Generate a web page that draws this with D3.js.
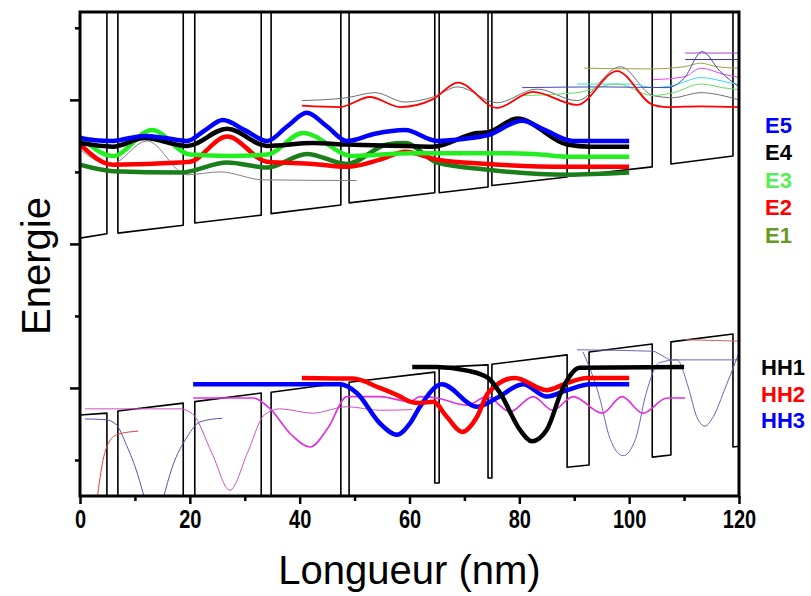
<!DOCTYPE html>
<html><head><meta charset="utf-8">
<script src="https://cdn.jsdelivr.net/npm/d3@7"></script>
<style>body{margin:0;background:#fff}</style>
</head><body><svg id="c" width="811" height="596"></svg>
<script>
// ---------- DATA (x in nm, energy in eV, arbitrary origin) ----------
const conductionBand = [[0,0.308],[4.9,0.314],[4.9,0.75],[6.9,0.75],[6.9,0.315],[18.8,0.326],[18.8,0.75],[20.9,0.75],[20.9,0.329],[33.0,0.340],[33.0,0.75],[34.8,0.75],[34.8,0.342],[47.5,0.354],[47.5,0.75],[49.0,0.75],[49.0,0.357],[64.6,0.371],[64.6,0.75],[65.4,0.75],[65.4,0.371],[74.3,0.379],[74.3,0.75],[75.0,0.75],[75.0,0.381],[88.7,0.393],[88.7,0.75],[92.7,0.75],[92.7,0.397],[104.2,0.407],[104.2,0.75],[107.6,0.75],[107.6,0.411],[118.9,0.422],[118.9,0.75]];
const valenceBand = [[0,0.0625],[4.9,0.065],[4.9,-0.1],[6.9,-0.1],[6.9,0.068],[18.8,0.079],[18.8,-0.1],[20.9,-0.1],[20.9,0.081],[33.0,0.093],[33.0,-0.1],[34.8,-0.1],[34.8,0.094],[47.5,0.107],[47.5,-0.1],[49.0,-0.1],[49.0,0.108],[64.6,0.122],[64.6,-0.032],[65.4,-0.032],[65.4,0.129],[74.3,0.132],[74.3,-0.025],[75.0,-0.025],[75.0,0.133],[88.7,0.146],[88.7,-0.010],[92.7,-0.007],[92.7,0.150],[104.2,0.161],[104.2,0.004],[107.6,0.007],[107.6,0.164],[118.9,0.175],[118.9,0.018],[120,0.019]];

const E5 = [[0,0.447],[2.7,0.444],[6.0,0.443],[9.1,0.447],[11.8,0.450],[15.5,0.447],[19.5,0.443],[22.8,0.458],[26.0,0.472],[30.0,0.458],[34.1,0.443],[37.7,0.463],[41.3,0.482],[45.0,0.463],[48.6,0.443],[53.7,0.453],[59.2,0.458],[65.0,0.443],[70.1,0.446],[74.3,0.451],[80.5,0.471],[84.7,0.458],[89.8,0.443],[100,0.443]];
const E4 = [[0,0.440],[6.0,0.435],[11.8,0.447],[19.5,0.436],[26.8,0.460],[34.1,0.436],[42.4,0.440],[48.6,0.438],[59.2,0.436],[64.3,0.435],[72.3,0.454],[74.3,0.455],[79.6,0.474],[88.7,0.438],[92.9,0.435],[100,0.435]];
const E3 = [[0,0.449],[6.0,0.422],[13.1,0.458],[20.0,0.424],[27.3,0.422],[34.1,0.424],[40.6,0.454],[49.7,0.422],[60.1,0.426],[74.3,0.426],[82.5,0.425],[88.7,0.421],[100,0.421]];
const E2 = [[0,0.438],[6.0,0.410],[18.2,0.413],[20.0,0.414],[26.8,0.449],[34.1,0.414],[42.4,0.411],[48.6,0.407],[54.6,0.417],[59.2,0.428],[65.0,0.417],[74.3,0.411],[88.7,0.407],[100,0.407]];
const E1 = [[0,0.410],[6.0,0.401],[18.2,0.399],[26.8,0.413],[34.1,0.406],[41.3,0.425],[48.6,0.411],[55.9,0.438],[59.2,0.440],[65.0,0.413],[74.3,0.403],[88.7,0.396],[100,0.399]];
const grayLow = [[0,0.431],[5.5,0.410],[12.2,0.443],[19.5,0.396],[25.5,0.400],[33.3,0.389],[50.4,0.388]];

const upperRed = [[40.4,0.492],[47.3,0.490],[52.8,0.504],[58.3,0.490],[64.3,0.501],[68.8,0.524],[75.9,0.489],[82.5,0.511],[90.5,0.493],[97.8,0.540],[104.3,0.493],[106.9,0.490],[113,0.491],[120,0.490]];
const upperGray = [[40.4,0.499],[48.6,0.503],[53.7,0.510],[59.2,0.497],[64.3,0.504],[68.8,0.518],[75.9,0.496],[83.2,0.515],[90.5,0.499],[98.4,0.546],[104.3,0.506],[108,0.503],[112.9,0.510],[120,0.500]];
const upperBlue = [[80.5,0.517],[95,0.518],[106.9,0.517],[110,0.530],[113.3,0.567],[116.5,0.540],[120,0.518]];
const upperNavy = [[110.2,0.556],[120,0.556]];
const upperPurple = [[110.2,0.565],[120,0.565]];
const upperOlive = [[91.8,0.544],[104,0.543],[110,0.546],[113,0.551],[116,0.546],[120,0.544]];
const upperMagenta = [[104.3,0.528],[110,0.532],[113.1,0.544],[117,0.536],[120,0.531]];
const upperCyan = [[90.5,0.522],[100.5,0.522],[104.3,0.517],[108,0.520],[113.1,0.531],[117,0.526],[120,0.521]];
const upperGreen = [[80.5,0.506],[90.5,0.510],[97.8,0.522],[104.3,0.506],[108,0.510],[113.1,0.522],[117,0.517],[120,0.514]];

const HH1 = [[60.5,0.129],[65,0.129],[70.5,0.124],[74.3,0.114],[76.5,0.093],[80.1,0.042],[82.3,0.026],[85.0,0.042],[88.0,0.101],[91.0,0.128],[110,0.129]];
const HH2 = [[40.4,0.114],[49.7,0.113],[54.6,0.100],[58.3,0.088],[60.1,0.081],[61.9,0.079],[64.3,0.081],[66.8,0.060],[69.6,0.039],[72.3,0.060],[74.3,0.093],[79.2,0.114],[85.0,0.097],[88.7,0.107],[92.3,0.114],[100,0.114]];
const HH3 = [[20.6,0.105],[47.3,0.105],[50.4,0.093],[54.6,0.051],[57.7,0.035],[60.1,0.051],[61.9,0.074],[65.9,0.105],[72.3,0.074],[75.9,0.086],[80.7,0.105],[85.0,0.088],[88.7,0.097],[92.9,0.105],[100,0.105]];
const pinkThin = [[0.9,0.071],[18.2,0.071],[20.5,0.064],[24,0.01],[27.3,-0.042],[30.5,0.01],[33.5,0.062],[36.4,0.071],[42.4,0.065],[48.6,0.074],[54.6,0.069],[60.5,0.070]];
const magentaHole = [[20.6,0.086],[31.5,0.086],[34.5,0.072],[38.5,0.035],[41.9,0.018],[45.2,0.045],[48.6,0.088],[54.6,0.088],[60.1,0.081],[61.9,0.088],[65.0,0.086],[70.5,0.076],[74.1,0.088],[78.3,0.067],[82.5,0.088],[86.1,0.069],[89.8,0.088],[95.1,0.065],[98.7,0.088],[102.5,0.065],[106.9,0.086],[110.2,0.086]];
const slateA = [[0.9,0.057],[4.6,0.056],[6.5,0.050],[8.5,0.020],[10.5,-0.02],[11.8,-0.055]];
const slateB = [[15.1,-0.055],[16.8,-0.01],[19.5,0.032],[21.9,0.053],[25.9,0.058]];
const redThinLow = [[3.1,-0.055],[4.2,0.0],[5.3,0.025],[7.0,0.036],[10.6,0.040]];
const slateC = [[90.5,0.153],[104.3,0.151],[106,0.145],[107.6,0.139],[120,0.139]];
const slateDip = [[91.6,0.150],[94.5,0.090],[96.5,0.030],[98.9,0.006],[101.2,0.030],[103,0.090],[105.5,0.135],[108.7,0.139],[110.8,0.100],[112.3,0.060],[113.8,0.047],[115.3,0.060],[117.5,0.100],[120,0.149]];
const redThinHigh = [[110.2,0.167],[120,0.165]];

const xMajorTicks = [0,20,40,60,80,100,120];
const xMinorTicks = [10,30,50,70,90,110];
const yMajorTicks = [0.1,0.3,0.5];
const yMinorTicks = [0,0.2,0.4,0.6];
const electronLabels = ["E5","E4","E3","E2","E1"];
const holeLabels = ["HH1","HH2","HH3"];
const xTitle = "Longueur (nm)";
const yTitle = "Energie";

// ---------- LAYOUT / STYLE ----------
const L=80, R=739, T=12, B=496;
const x = d3.scaleLinear().domain([0,120]).range([L,R]);
const y = d3.scaleLinear().domain([-0.05,0.622]).range([B,T]);
const svg = d3.select("#c");

svg.append("defs").append("clipPath").attr("id","clip")
  .append("rect").attr("x",L).attr("y",T).attr("width",R-L).attr("height",B-T);
const plot = svg.append("g").attr("clip-path","url(#clip)");

const straight = d3.line().x(d=>x(d[0])).y(d=>y(d[1]));
const smooth = d3.line().x(d=>x(d[0])).y(d=>y(d[1])).curve(d3.curveMonotoneX);

function draw(data, color, width, gen){
  plot.append("path").datum(data).attr("d", gen||smooth)
    .attr("fill","none").attr("stroke",color).attr("stroke-width",width)
    .attr("stroke-linejoin","round");
}
// band profile
draw(conductionBand,"#000",1.6,straight);
draw(valenceBand,"#000",1.6,straight);
// thin states
draw(grayLow,"#808080",1);
draw(upperGray,"#707070",1);
draw(upperPurple,"#aa44cc",1);
draw(upperNavy,"#3333aa",1);
draw(upperOlive,"#a0a040",1);
draw(upperMagenta,"#ee44ee",1);
draw(upperCyan,"#33dddd",1);
draw(upperGreen,"#66dd66",1);
draw(upperBlue,"#4444bb",1);
draw(upperRed,"#ff0000",1.8);
draw(pinkThin,"#d050c8",1);
draw(slateA,"#5555aa",1);
draw(slateB,"#5555aa",1);
draw(redThinLow,"#e04040",1);
draw(slateC,"#6666bb",1);
draw(slateDip,"#6666bb",1);
draw(redThinHigh,"#d06060",1);
draw(magentaHole,"#e030e0",1.6);
// thick states
draw(E1,"#1a7f1a",4.5);
draw(E2,"#ff0000",4.5);
draw(E3,"#22ee22",4.5);
draw(E4,"#000000",4.5);
draw(E5,"#0000ff",4.5);
draw(HH3,"#0000ff",4.5);
draw(HH2,"#ff0000",4.5);
draw(HH1,"#000000",4.5);

// axes
const gx = svg.append("g").attr("transform",`translate(0,${B})`)
  .call(d3.axisBottom(x).tickValues(xMajorTicks).tickSize(8).tickPadding(6).tickFormat(d3.format("d")));
gx.select(".domain").remove();
gx.selectAll("line").attr("stroke-width",2.5);
gx.selectAll("text").attr("font-family","'Liberation Sans',Arial,sans-serif").attr("font-weight","bold")
  .attr("font-size",25).attr("fill","#000").attr("transform","scale(0.8,1)");
const gxm = svg.append("g").attr("transform",`translate(0,${B})`)
  .call(d3.axisBottom(x).tickValues(xMinorTicks).tickSize(5).tickFormat(""));
gxm.select(".domain").remove();
gxm.selectAll("line").attr("stroke-width",2.5);

const gy = svg.append("g").attr("transform",`translate(${L},0)`)
  .call(d3.axisLeft(y).tickValues(yMajorTicks).tickSize(10).tickFormat(""));
gy.select(".domain").remove();
gy.selectAll("line").attr("stroke-width",2.5);
const gym = svg.append("g").attr("transform",`translate(${L},0)`)
  .call(d3.axisLeft(y).tickValues(yMinorTicks).tickSize(5).tickFormat(""));
gym.select(".domain").remove();
gym.selectAll("line").attr("stroke-width",2.5);

// frame
svg.append("rect").attr("x",L).attr("y",T).attr("width",R-L).attr("height",B-T)
  .attr("fill","none").attr("stroke","#000").attr("stroke-width",3);

// titles
svg.append("text").attr("x",(L+R)/2).attr("y",584).attr("text-anchor","middle")
  .attr("font-family","'Liberation Sans',Arial,sans-serif").attr("font-size",40).text(xTitle);
svg.append("text").attr("transform",`translate(50,${(T+B)/2+12}) rotate(-90)`).attr("text-anchor","middle")
  .attr("font-family","'Liberation Sans',Arial,sans-serif").attr("font-size",40).text(yTitle);

// labels
const eColors = ["#0000ff","#000000","#55ee55","#ff0000","#669922"];
const eBase = [133,160,188,215,243];
svg.selectAll(".el").data(electronLabels).enter().append("text")
  .attr("x",765).attr("y",(d,i)=>eBase[i]).attr("fill",(d,i)=>eColors[i])
  .attr("font-family","'Liberation Sans',Arial,sans-serif").attr("font-weight","bold").attr("font-size",22).text(d=>d);
const hColors = ["#000000","#ff0000","#0000ff"];
const hBase = [375,402,428];
svg.selectAll(".hl").data(holeLabels).enter().append("text")
  .attr("x",761).attr("y",(d,i)=>hBase[i]).attr("fill",(d,i)=>hColors[i])
  .attr("font-family","'Liberation Sans',Arial,sans-serif").attr("font-weight","bold").attr("font-size",22).text(d=>d);
</script>
</body></html>
